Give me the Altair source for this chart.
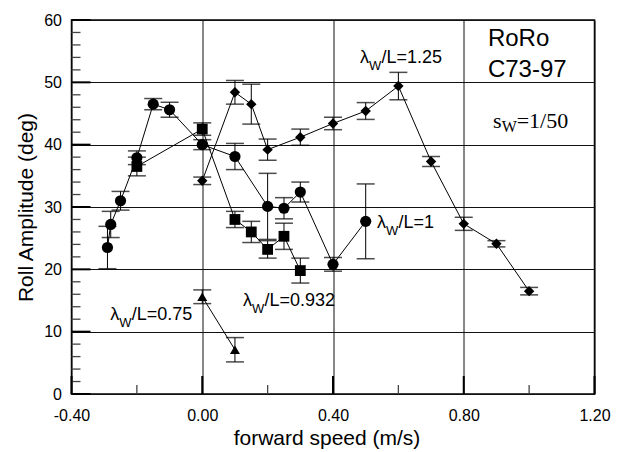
import altair as alt
import pandas as pd

# ---- data ----
circ_x = [-0.29, -0.28, -0.25, -0.20, -0.15, -0.10, 0.00, 0.10, 0.20, 0.25, 0.30, 0.40, 0.50]
circ_y = [23.5, 27.2, 31.0, 37.9, 46.5, 45.6, 40.0, 38.1, 30.1, 29.8, 32.4, 20.8, 27.7]
circ_e = [3.4, 2.1, 1.5, 1.1, 0.9, 1.2, 0.8, 2.1, 5.3, 1.7, 1.6, 1.1, 6.0]

sq_x = [-0.20, 0.00, 0.10, 0.15, 0.20, 0.25, 0.30]
sq_y = [36.5, 42.5, 28.0, 26.0, 23.2, 25.3, 19.8]
sq_e = [1.5, 1.0, 1.3, 1.7, 1.4, 2.1, 2.0]

dia_x = [0.00, 0.10, 0.15, 0.20, 0.30, 0.40, 0.50, 0.60, 0.70, 0.80, 0.90, 1.00]
dia_y = [34.2, 48.4, 46.5, 39.2, 41.2, 43.4, 45.4, 49.4, 37.3, 27.3, 24.1, 16.5]
dia_e = [0.6, 1.9, 3.2, 1.7, 1.3, 1.0, 1.35, 2.2, 0.8, 1.05, 0.5, 0.6]

tri_x = [0.00, 0.10]
tri_y = [15.6, 7.1]
tri_e = [1.1, 1.95]

series_names = ["circle", "square", "diamond", "triangle-up"]
series_sizes = [125, 100, 210, 230]

x_major = [-0.4, 0.0, 0.4, 0.8, 1.2]
x_minor = [-0.2, 0.2, 0.6, 1.0]
y_major = [0, 10, 20, 30, 40, 50, 60]
y_minor = [v for v in range(2, 60, 2) if v % 10 != 0]

lab_x = [-0.254, 0.152, 0.562, 0.510]
lab_y = [11.8, 14.15, 26.6, 53.1]
lab_rest = ["/L=0.75", "/L=0.932", "/L=1", "/L=1.25"]

roro_x = [0.874, 0.874]
roro_y = [55.8, 50.9]
roro_text = ["RoRo", "C73-97"]

sw_x = [0.916]
sw_y = [42.6]

# ---- tables ----
rows = []
for name, xs_, ys_, es_ in [("circle", circ_x, circ_y, circ_e),
                            ("square", sq_x, sq_y, sq_e),
                            ("diamond", dia_x, dia_y, dia_e),
                            ("triangle-up", tri_x, tri_y, tri_e)]:
    for i, (x, y, e) in enumerate(zip(xs_, ys_, es_)):
        rows.append({"s": name, "order": i, "x": x, "y": y, "lo": y - e, "hi": y + e})
df = pd.DataFrame(rows)
caps = pd.concat([df[["s", "x", "lo"]].rename(columns={"lo": "y"}),
                  df[["s", "x", "hi"]].rename(columns={"hi": "y"})])

FONT = "Liberation Sans"
SERIF = "Liberation Serif"

x_axis = alt.Axis(values=x_major, labelExpr="(datum.value < 0 ? '-' : '') + format(abs(datum.value), '.2f')",
                  ticks=False, domain=False, grid=True, gridColor="#111", gridWidth=1,
                  labelFont=FONT, labelFontSize=16, labelColor="black", labelPadding=13,
                  labelFlush=False, title="forward speed (m/s)", titleFont=FONT, titleFontSize=21,
                  titleFontWeight="normal", titleColor="black", titleX=255, titleY=50,
                  titleBaseline="alphabetic", titleAlign="center")
y_axis = alt.Axis(values=y_major, format="d", ticks=False, domain=False, grid=True,
                  gridColor="#111", gridWidth=1, labelFont=FONT, labelFontSize=16,
                  labelColor="black", labelPadding=10, title="Roll Amplitude (deg)",
                  titleFont=FONT, titleFontSize=21, titleFontWeight="normal", titleColor="black",
                  titleX=-39.5, titleY=187, titleAngle=270, titleBaseline="alphabetic",
                  titleAlign="center")
xs = alt.Scale(domain=[-0.4, 1.2], nice=False, zero=False)
ys = alt.Scale(domain=[0, 60], nice=False, zero=False)


def X(f="x"):
    return alt.X(f"{f}:Q", scale=xs, axis=x_axis)


def Y(f="y"):
    return alt.Y(f"{f}:Q", scale=ys, axis=y_axis)


lines = alt.Chart(df).mark_line(color="black", strokeWidth=1).encode(
    x=X(), y=Y(), detail="s:N", order="order:Q")
bars = alt.Chart(df).mark_rule(color="black", strokeWidth=1).encode(
    x=X(), y=Y("lo"), y2="hi:Q")
cap = alt.Chart(caps).mark_tick(color="black", orient="horizontal", size=18, thickness=1.5).encode(
    x=X(), y=Y())
pts = alt.Chart(df).mark_point(filled=True, opacity=1, color="black").encode(
    x=X(), y=Y(),
    shape=alt.Shape("s:N", scale=alt.Scale(domain=series_names, range=series_names), legend=None),
    size=alt.Size("s:N", scale=alt.Scale(domain=series_names, range=series_sizes), legend=None))

# inward axis ticks
ymaj = alt.Chart(pd.DataFrame({"v": y_major})).mark_rule(color="black", strokeWidth=2).encode(
    y=Y("v"), x=alt.value(0), x2=alt.value(19))
ymin = alt.Chart(pd.DataFrame({"v": y_minor})).mark_rule(color="#444", strokeWidth=1.3).encode(
    y=Y("v"), x=alt.value(0), x2=alt.value(9))
xmaj = alt.Chart(pd.DataFrame({"v": x_major})).mark_rule(color="black", strokeWidth=2).encode(
    x=X("v"), y=alt.value(374), y2=alt.value(356))
xmin = alt.Chart(pd.DataFrame({"v": x_minor})).mark_rule(color="#444", strokeWidth=1.3).encode(
    x=X("v"), y=alt.value(374), y2=alt.value(365))

# annotations
labdf = pd.DataFrame({"x": lab_x, "y": lab_y, "rest": lab_rest})
lam = alt.Chart(labdf).mark_text(text="λ", align="right", baseline="alphabetic", font=FONT,
                                 fontSize=18, color="black").encode(x=X(), y=Y())
sub = alt.Chart(labdf).mark_text(text="W", align="left", baseline="alphabetic", font=FONT,
                                 fontSize=13, dy=7, color="black").encode(x=X(), y=Y())
rest = alt.Chart(labdf).mark_text(align="left", baseline="alphabetic", font=FONT, fontSize=18,
                                  dx=12.5, color="black").encode(x=X(), y=Y(), text="rest:N")

rdf = pd.DataFrame({"x": roro_x, "y": roro_y, "t": roro_text})
roro = alt.Chart(rdf).mark_text(align="left", baseline="alphabetic", font=FONT, fontSize=24,
                                color="black").encode(x=X(), y=Y(), text="t:N")

swdf = pd.DataFrame({"x": sw_x, "y": sw_y})
sw_s = alt.Chart(swdf).mark_text(text="s", align="right", baseline="alphabetic", font=SERIF,
                                 fontSize=22, color="black").encode(x=X(), y=Y())
sw_w = alt.Chart(swdf).mark_text(text="W", align="left", baseline="alphabetic", font=SERIF,
                                 fontSize=16, dy=4, color="black").encode(x=X(), y=Y())
sw_r = alt.Chart(swdf).mark_text(text="=1/50", align="left", baseline="alphabetic", font=SERIF,
                                 fontSize=22, dx=15, color="black").encode(x=X(), y=Y())

chart = alt.layer(lines, bars, cap, pts, ymaj, ymin, xmaj, xmin, lam, sub, rest, roro,
                  sw_s, sw_w, sw_r).properties(
    width=523, height=374,
    autosize=alt.AutoSizeParams(type="none"),
    padding={"left": 71.5, "top": 20, "right": 24.5, "bottom": 58},
    background="white",
).configure_view(stroke="black", strokeWidth=1.5)

chart.save("out.html", embed_options={"renderer": "svg", "actions": False})
